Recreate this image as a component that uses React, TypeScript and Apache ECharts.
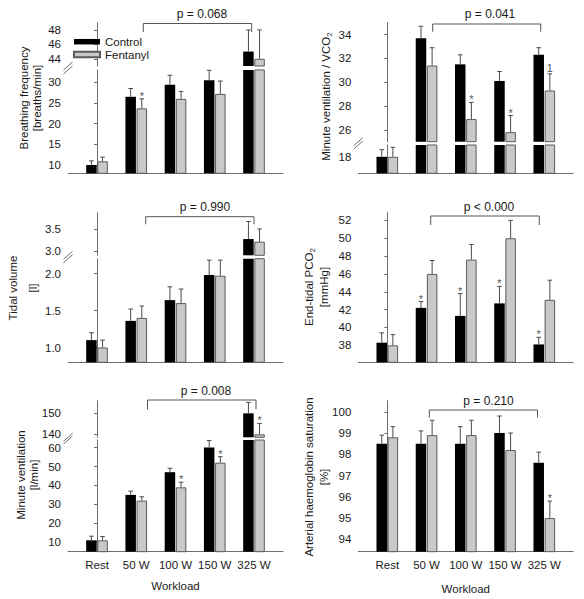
import React, { useEffect, useRef } from "react";
import * as echarts from "echarts";

const categories = ["Rest", "50 W", "100 W", "150 W", "325 W"];
const seriesNames = ["Control", "Fentanyl"];

// Breathing frequency [breaths/min]
const bfControl = [10.0, 26.5, 29.4, 30.5, 45.0];
const bfControlSD = [1.0, 2.0, 2.3, 2.4, 3.0];
const bfFentanyl = [10.9, 23.7, 26.0, 27.2, 44.0];
const bfFentanylSD = [1.0, 2.3, 1.8, 3.1, 4.0];
const bfControlMarks = ["", "", "", "", ""];
const bfFentanylMarks = ["", "*", "", "", ""];
const bfLowerTicks = [10, 15, 20, 25, 30];
const bfUpperTicks = [44, 46, 48];

// Minute ventilation / VCO2
const vqControl = [18.0, 33.7, 31.5, 30.1, 32.3];
const vqControlSD = [0.6, 1.0, 0.8, 0.8, 0.6];
const vqFentanyl = [18.0, 31.4, 26.9, 25.8, 29.3];
const vqFentanylSD = [0.8, 1.5, 1.4, 1.4, 1.4];
const vqControlMarks = ["", "", "", "", ""];
const vqFentanylMarks = ["", "", "*", "*", "1"];
const vqLowerTicks = [18];
const vqUpperTicks = [26, 28, 30, 32, 34];

// Tidal volume [l]
const tvControl = [1.1, 1.36, 1.64, 1.98, 3.27];
const tvControlSD = [0.1, 0.16, 0.18, 0.2, 0.4];
const tvFentanyl = [1.0, 1.4, 1.6, 1.97, 3.21];
const tvFentanylSD = [0.1, 0.16, 0.19, 0.21, 0.29];
const tvControlMarks = ["", "", "", "", ""];
const tvFentanylMarks = ["", "", "", "", ""];
const tvLowerTicks = [1.0, 1.5, 2.0];
const tvUpperTicks = [3.0, 3.5];

// End-tidal PCO2 [mmHg]
const etControl = [38.3, 42.2, 41.3, 42.7, 38.1];
const etControlSD = [1.1, 0.7, 2.5, 1.9, 0.8];
const etFentanyl = [38.0, 46.0, 47.6, 50.0, 43.1];
const etFentanylSD = [1.2, 1.5, 1.7, 2.0, 2.2];
const etControlMarks = ["", "*", "*", "*", "*"];
const etFentanylMarks = ["", "", "", "", ""];
const etTicks = [38, 40, 42, 44, 46, 48, 50, 52];

// Minute ventilation [l/min]
const veControl = [11, 35, 47, 60, 150];
const veControlSD = [2.2, 2.0, 2.1, 3.7, 5.2];
const veFentanyl = [11, 32, 39, 52, 140];
const veFentanylSD = [2.0, 2.0, 2.7, 3.2, 5.2];
const veControlMarks = ["", "", "", "", ""];
const veFentanylMarks = ["", "", "*", "*", "*"];
const veLowerTicks = [10, 20, 30, 40, 50, 60];
const veUpperTicks = [140, 150];

// Arterial haemoglobin saturation [%]
const saControl = [98.5, 98.5, 98.5, 99.0, 97.6];
const saControlSD = [0.4, 0.6, 0.8, 0.8, 0.5];
const saFentanyl = [98.8, 98.9, 98.9, 98.2, 95.0];
const saFentanylSD = [0.5, 0.7, 0.7, 0.8, 0.8];
const saControlMarks = ["", "", "", "", ""];
const saFentanylMarks = ["", "", "", "", "*"];
const saTicks = [94, 95, 96, 97, 98, 99, 100];

const pValues = ["p = 0.068", "p = 0.041", "p = 0.990", "p < 0.000", "p = 0.008", "p = 0.210"];
const xAxisTitle = "Workload";

const FONT = "'Liberation Sans', Arial, Helvetica, sans-serif";
const AXIS = "#6e6e6e";
const TEXT = "#1a1a1a";
const ERR = "#4a4a4a";
const BW = 10.5;
const GAP_FRAC = 0.06;
const HALF = (BW + BW * GAP_FRAC) / 2;
const XMIN = -0.739;
const XMAX = 4.739;
const PW = 215;

type Seg = { min: number; max: number; top: number; bottom: number; ticks: number[] };
type Panel = {
  x0: number;
  ctrl: number[];
  ctrlSD: number[];
  fent: number[];
  fentSD: number[];
  ctrlMarks: string[];
  fentMarks: string[];
  segs: Seg[];
  decimals: number;
  label: string[];
  labelX: number[];
  labelY: number;
  p: string;
  bracket: number[]; // x1, x2, y, yEnd
  pX: number;
  pY: number;
  showX: boolean;
};

const panels: Panel[] = [
  {
    x0: 68, ctrl: bfControl, ctrlSD: bfControlSD, fent: bfFentanyl, fentSD: bfFentanylSD,
    ctrlMarks: bfControlMarks, fentMarks: bfFentanylMarks,
    segs: [
      { min: 43, max: 49, top: 22.7, bottom: 66, ticks: bfUpperTicks },
      { min: 8, max: 33, top: 69.9, bottom: 173.3, ticks: bfLowerTicks },
    ],
    decimals: 0,
    label: ["{n|Breathing frequency}", "{n|[breaths/min]}"], labelX: [23.5, 36.5], labelY: 98,
    p: pValues[0], bracket: [143.3, 251.7, 23.5, 32], pX: 202, pY: 14.3, showX: false,
  },
  {
    x0: 358.3, ctrl: vqControl, ctrlSD: vqControlSD, fent: vqFentanyl, fentSD: vqFentanylSD,
    ctrlMarks: vqControlMarks, fentMarks: vqFentanylMarks,
    segs: [
      { min: 25, max: 35, top: 22.7, bottom: 141.7, ticks: vqUpperTicks },
      { min: 16.6, max: 19, top: 145, bottom: 173.3, ticks: vqLowerTicks },
    ],
    decimals: 0,
    label: ["{n|Minute ventilation / VCO}{s|2}"], labelX: [325.7], labelY: 96.5,
    p: pValues[1], bracket: [432.7, 540.7, 24, 31.7], pX: 490, pY: 14.3, showX: false,
  },
  {
    x0: 68, ctrl: tvControl, ctrlSD: tvControlSD, fent: tvFentanyl, fentSD: tvFentanylSD,
    ctrlMarks: tvControlMarks, fentMarks: tvFentanylMarks,
    segs: [
      { min: 2.9, max: 3.87, top: 212.7, bottom: 255.3, ticks: tvUpperTicks },
      { min: 0.8, max: 2.2, top: 258.7, bottom: 362.3, ticks: tvLowerTicks },
    ],
    decimals: 1,
    label: ["{n|Tidal volume}", "{n|[l]}"], labelX: [13, 32.5], labelY: 288,
    p: pValues[2], bracket: [145.7, 254, 216.7, 224.3], pX: 205, pY: 206.7, showX: false,
  },
  {
    x0: 358.3, ctrl: etControl, ctrlSD: etControlSD, fent: etFentanyl, fentSD: etFentanylSD,
    ctrlMarks: etControlMarks, fentMarks: etFentanylMarks,
    segs: [{ min: 36.1, max: 52.86, top: 212.7, bottom: 362.3, ticks: etTicks }],
    decimals: 0,
    label: ["{n|End-tidal PCO}{s|2}", "{n|[mmHg]}"], labelX: [309, 323.5], labelY: 287,
    p: pValues[3], bracket: [430.7, 539.3, 216, 225], pX: 489, pY: 206.7, showX: false,
  },
  {
    x0: 68, ctrl: veControl, ctrlSD: veControlSD, fent: veFentanyl, fentSD: veFentanylSD,
    ctrlMarks: veControlMarks, fentMarks: veFentanylMarks,
    segs: [
      { min: 138.6, max: 156, top: 400.7, bottom: 437.3, ticks: veUpperTicks },
      { min: 5, max: 64, top: 440, bottom: 551.7, ticks: veLowerTicks },
    ],
    decimals: 0,
    label: ["{n|Minute ventilation}", "{n|[l/min]}"], labelX: [20.5, 33.8], labelY: 475,
    p: pValues[4], bracket: [147.5, 256, 400, 409.3], pX: 206, pY: 390.5, showX: true,
  },
  {
    x0: 358.3, ctrl: saControl, ctrlSD: saControlSD, fent: saFentanyl, fentSD: saFentanylSD,
    ctrlMarks: saControlMarks, fentMarks: saFentanylMarks,
    segs: [{ min: 93.42, max: 100.52, top: 400.7, bottom: 551.7, ticks: saTicks }],
    decimals: 0,
    label: ["{n|Arterial haemoglobin saturation}", "{n|[%]}"], labelX: [308.5, 323.5], labelY: 477,
    p: pValues[5], bracket: [429.3, 537.5, 410, 417.5], pX: 488.5, pY: 400.5, showX: true,
  },
];

const rich = {
  n: { fontSize: 11.5, fontFamily: FONT, fill: TEXT, color: TEXT },
  s: { fontSize: 8, fontFamily: FONT, fill: TEXT, color: TEXT, padding: [7, 0, 0, 0] },
};

function buildOption() {
  const grid: any[] = [];
  const xAxis: any[] = [];
  const yAxis: any[] = [];
  const series: any[] = [];
  const graphic: any[] = [];

  panels.forEach((pn) => {
    pn.segs.forEach((sg, si) => {
      const gi = grid.length;
      const isBottom = si === pn.segs.length - 1;
      grid.push({
        left: pn.x0, top: sg.top, width: PW, height: sg.bottom - sg.top,
        containLabel: false, outerBoundsMode: "none",
      });
      xAxis.push({
        type: "value", gridIndex: gi, min: XMIN, max: XMAX, show: isBottom,
        splitLine: { show: false },
        axisLine: { show: true, lineStyle: { color: AXIS, width: 1 } },
        axisTick: { show: false },
        axisLabel: {
          show: isBottom && pn.showX,
          customValues: [0, 1, 2, 3, 4],
          formatter: (v: number) => categories[Math.round(v)] ?? "",
          fontSize: 11.5, color: TEXT, fontFamily: FONT, margin: 7,
        },
      });
      yAxis.push({
        type: "value", gridIndex: gi, min: sg.min, max: sg.max,
        splitLine: { show: false },
        axisLine: { show: true, lineStyle: { color: AXIS, width: 1 } },
        axisTick: { show: true, length: 3, customValues: sg.ticks, lineStyle: { color: AXIS } },
        axisLabel: {
          customValues: sg.ticks,
          formatter: (v: number) => v.toFixed(pn.decimals),
          fontSize: 11.5, color: TEXT, fontFamily: FONT, margin: 7,
        },
      });
      const groups = [
        { vals: pn.ctrl, sd: pn.ctrlSD, marks: pn.ctrlMarks },
        { vals: pn.fent, sd: pn.fentSD, marks: pn.fentMarks },
      ];
      groups.forEach((g, k) => {
        series.push({
          type: "bar", name: seriesNames[k], xAxisIndex: gi, yAxisIndex: gi,
          barWidth: BW, barGap: `${GAP_FRAC * 100}%`, clip: true,
          itemStyle: k === 0
            ? { color: "#000000", borderColor: "#000000", borderWidth: 0 }
            : { color: "#c9c9c9", borderColor: "#5a5a5a", borderWidth: 1 },
          data: categories.map((_, i) => [i, g.vals[i]]),
          emphasis: { disabled: true },
          z: 2,
        });
      });
      const errData: any[] = [];
      groups.forEach((g, k) => {
        categories.forEach((_, i) => {
          const v = g.vals[i];
          if (v >= sg.min && v <= sg.max) errData.push([i, v, v + g.sd[i], k]);
        });
      });
      series.push({
        type: "custom", xAxisIndex: gi, yAxisIndex: gi, z: 5, clip: false,
        itemStyle: { color: ERR },
        encode: { x: 0, y: [1, 2] },
        data: errData,
        renderItem: (params: any, api: any) => {
          const d = errData[params.dataIndex];
          const top = api.coord([d[0], d[2]]);
          const base = api.coord([d[0], d[1]]);
          const cx = top[0] + (d[3] === 0 ? -HALF : HALF);
          return {
            type: "group",
            children: [
              { type: "line", shape: { x1: cx, y1: base[1], x2: cx, y2: top[1] }, style: { stroke: ERR, lineWidth: 1 } },
              { type: "line", shape: { x1: cx - 2.3, y1: top[1], x2: cx + 2.3, y2: top[1] }, style: { stroke: ERR, lineWidth: 1 } },
            ],
          };
        },
      });
      // significance marks above the error bars
      groups.forEach((g, k) => {
        const markData: any[] = [];
        categories.forEach((_, i) => {
          const v = g.vals[i];
          const m = g.marks[i];
          if (m && v >= sg.min && v <= sg.max) {
            markData.push({
              value: [i, v + g.sd[i]],
              label: { formatter: m, offset: [k === 0 ? -HALF : HALF, m === "*" ? 3 : 0.5] },
            });
          }
        });
        if (!markData.length) return;
        series.push({
          type: "scatter", xAxisIndex: gi, yAxisIndex: gi, z: 6,
          symbolSize: 1, itemStyle: { color: "rgba(255,255,255,0)" }, silent: true,
          emphasis: { disabled: true },
          label: {
            show: true, position: "top", distance: 0,
            color: TEXT, fontSize: 11, fontFamily: FONT,
          },
          data: markData,
        });
      });
    });

    // axis break marks
    if (pn.segs.length === 2) {
      [pn.segs[0].bottom, pn.segs[1].top].forEach((y) => {
        graphic.push({
          type: "line", shape: { x1: pn.x0 - 4.5, y1: y + 4, x2: pn.x0 + 4.5, y2: y - 4 },
          style: { stroke: AXIS, lineWidth: 1 }, silent: true,
        });
      });
    }
    // y labels
    pn.label.forEach((t, li) => {
      graphic.push({
        type: "text", x: pn.labelX[li], y: pn.labelY, rotation: Math.PI / 2,
        style: {
          text: t, rich, fill: TEXT, font: `11.5px ${FONT}`,
          align: "center", verticalAlign: "middle", textAlign: "center", textVerticalAlign: "middle",
        },
        silent: true,
      });
    });
    // p-value bracket
    const [bx1, bx2, by, byEnd] = pn.bracket;
    graphic.push({
      type: "polyline",
      shape: { points: [[bx1, byEnd], [bx1, by], [bx2, by], [bx2, byEnd]] },
      style: { stroke: "#555555", lineWidth: 1, fill: null },
      silent: true,
    });
    graphic.push({
      type: "text", x: pn.pX, y: pn.pY,
      style: {
        text: pn.p, fill: TEXT, font: `12px ${FONT}`,
        align: "center", verticalAlign: "middle", textAlign: "center", textVerticalAlign: "middle",
      },
      silent: true,
    });
    if (pn.showX) {
      graphic.push({
        type: "text", x: pn.x0 + 29 + 2 * 39.25, y: pn.x0 < 200 ? 585.5 : 589,
        style: {
          text: xAxisTitle, fill: TEXT, font: `11.5px ${FONT}`,
          align: "center", verticalAlign: "middle", textAlign: "center", textVerticalAlign: "middle",
        },
        silent: true,
      });
    }
  });

  return {
    animation: false,
    grid, xAxis, yAxis, series, graphic,
    legend: {
      data: seriesNames, orient: "vertical", left: 73, top: 35.7, padding: 0,
      itemWidth: 26, itemHeight: 5.5, itemGap: 0.8, icon: "rect",
      selectedMode: false,
      textStyle: { fontSize: 11.5, color: TEXT, fontFamily: FONT, lineHeight: 12 },
    },
  };
}

export default function App() {
  const ref = useRef<HTMLDivElement>(null);
  useEffect(() => {
    if (!ref.current) return;
    const chart = echarts.init(ref.current, null, { renderer: "svg" });
    chart.setOption(buildOption() as any);
    return () => chart.dispose();
  }, []);
  return (
    <div
      ref={ref}
      style={{ position: "fixed", left: 0, top: 0, width: 584, height: 599, background: "#ffffff" }}
    />
  );
}
